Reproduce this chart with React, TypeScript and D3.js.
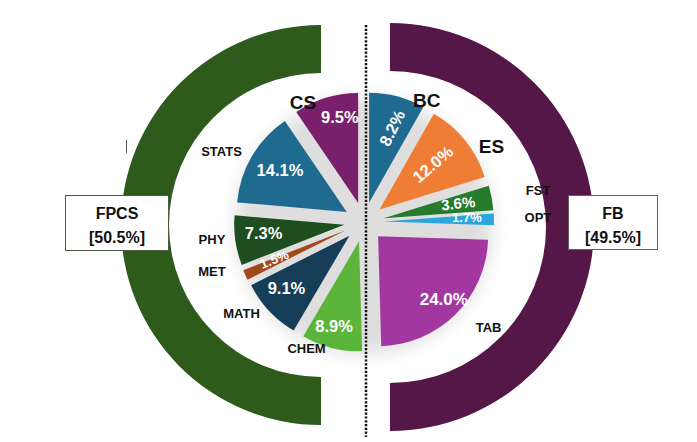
import React from "react";
import * as d3 from "d3";

// ---- data ----
const categories = ["BC", "ES", "FST", "OPT", "TAB", "CHEM", "MATH", "MET", "PHY", "STATS", "CS"];
const values = [8.2, 12.0, 3.6, 1.7, 24.0, 8.9, 9.1, 1.5, 7.3, 14.1, 9.5];
const valueLabels = ["8.2%", "12.0%", "3.6%", "1.7%", "24.0%", "8.9%", "9.1%", "1.5%", "7.3%", "14.1%", "9.5%"];
const groupNames = ["FPCS", "FB"];
const groupShares = ["[50.5%]", "[49.5%]"];

// ---- styles / layout ----
const sliceColors: Record<string, string> = {
  BC: "#1f6a8f", ES: "#f07d35", FST: "#267a2b", OPT: "#2aa5dd", TAB: "#a2389f",
  CHEM: "#5cb53b", MATH: "#173e58", MET: "#a4481c", PHY: "#1e4d1f", STATS: "#1f6a8f", CS: "#7a1f6b",
};
// outer name label: [radius, angle shift deg, font size]
const nameLayout: Record<string, [number, number, number]> = {
  BC: [137, 12.5, 19], ES: [148, 8.3, 19], FST: [177, 0.4, 13], OPT: [174, -0.2, 13], TAB: [163, -5, 13],
  CHEM: [139, 10, 13], MATH: [153, 6.3, 13], MET: [160, 6, 13], PHY: [153, 1.7, 13], STATS: [159, -4, 13], CS: [134, -10, 19],
};
// percent label: [radius, angle shift, rotation, font size]
const pctLayout: Record<string, [number, number, number, number]> = {
  BC: [98, 1.8, -64, 16.5], ES: [90, -1.3, -40, 16.5], FST: [96, -0.6, -6, 15], OPT: [103, -1.4, 0, 13], TAB: [111, -1.1, 0, 17],
  CHEM: [108, 1.7, 0, 16.5], MATH: [102, 2.6, 0, 16.5], MET: [97, 1.5, -22, 13], PHY: [101, 2.2, 0, 16.5], STATS: [99, 1.6, 0, 16.5], CS: [108, 4.2, 0, 16.5],
};

const W = 697, H = 442;
const cx = 364, cy = 222;
const R = 110;
const explode = 20;
const FONT = "'Liberation Sans', Arial, Helvetica, sans-serif";

const dir = (a: number): [number, number] => [Math.sin(a), -Math.cos(a)];

export default function App() {
  const data = categories.map((c, i) => ({ c, v: values[i], label: valueLabels[i] }));
  const pie = d3.pie<any>().sort(null).value((d: any) => d.v);
  const arcs = pie(data);
  const arc = d3.arc<any>().innerRadius(0).outerRadius(R);

  const ringArc = d3.arc<any>();
  const leftRing = ringArc({ innerRadius: 152, outerRadius: 200, startAngle: Math.PI, endAngle: 2 * Math.PI } as any) as string;
  const rightRing = ringArc({ innerRadius: 156, outerRadius: 204, startAngle: 0, endAngle: Math.PI } as any) as string;

  const deg = Math.PI / 180;

  return (
    <svg width={W} height={H} style={{ position: "absolute", left: 0, top: 0, background: "#fff" }} fontFamily={FONT}>
      <defs>
        <filter id="halo" x="-50%" y="-50%" width="200%" height="200%">
          <feGaussianBlur stdDeviation={9} />
        </filter>
      </defs>
      <rect width={W} height={H} fill="#fff" />

      {/* group rings */}
      <path d={leftRing} transform={`translate(321,225)`} fill="#2e5b1c" />
      <path d={rightRing} transform={`translate(390,227)`} fill="#541747" />

      {/* soft halo behind pie */}
      <circle cx={cx} cy={cy + 4} r={128} fill="#dedede" filter="url(#halo)" />

      {/* slices */}
      {arcs.map((a) => {
        const mid = (a.startAngle + a.endAngle) / 2;
        const [dx, dy] = dir(mid);
        return (
          <path key={a.data.c} d={arc(a) as string} fill={sliceColors[a.data.c]}
            transform={`translate(${cx + dx * explode},${cy + dy * explode})`} />
        );
      })}

      {/* percent labels */}
      {arcs.map((a) => {
        const mid = (a.startAngle + a.endAngle) / 2;
        const [r, sh, rot, fs] = pctLayout[a.data.c];
        const [dx, dy] = dir(mid + sh * deg);
        const x = cx + dx * r, y = cy + dy * r;
        return (
          <text key={"p" + a.data.c} x={x} y={y} transform={`rotate(${rot},${x},${y})`} textAnchor="middle"
            dominantBaseline="central" fill="#fff" fontWeight="bold" fontSize={fs}>{a.data.label}</text>
        );
      })}

      {/* name labels */}
      {arcs.map((a) => {
        const mid = (a.startAngle + a.endAngle) / 2;
        const [r, sh, fs] = nameLayout[a.data.c];
        const [dx, dy] = dir(mid + sh * deg);
        return (
          <text key={"n" + a.data.c} x={cx + dx * r} y={cy + dy * r} textAnchor="middle"
            dominantBaseline="central" fill="#111" fontWeight="bold" fontSize={fs}>{a.data.c}</text>
        );
      })}

      {/* divider */}
      <line x1={366} x2={366} y1={25} y2={437} stroke="#111" strokeWidth={2.5} strokeDasharray="2.2,1.6" />

      {/* small tick mark */}
      <line x1={126.5} x2={126.5} y1={140} y2={153} stroke="#555" strokeWidth={1} />

      {/* group boxes */}
      <rect x={65.5} y={195.5} width={103} height={55} fill="#fff" stroke="#4b5a44" strokeWidth={1} />
      <text x={117} y={213} textAnchor="middle" dominantBaseline="central" fontWeight="bold" fontSize={16} fill="#111">{groupNames[0]}</text>
      <text x={117} y={237} textAnchor="middle" dominantBaseline="central" fontWeight="bold" fontSize={16} fill="#111">{groupShares[0]}</text>

      <rect x={568.5} y={195.5} width={89} height={54} fill="#fff" stroke="#6e5a6c" strokeWidth={1} />
      <text x={613} y={213} textAnchor="middle" dominantBaseline="central" fontWeight="bold" fontSize={16} fill="#111">{groupNames[1]}</text>
      <text x={613} y={237} textAnchor="middle" dominantBaseline="central" fontWeight="bold" fontSize={16} fill="#111">{groupShares[1]}</text>
    </svg>
  );
}
